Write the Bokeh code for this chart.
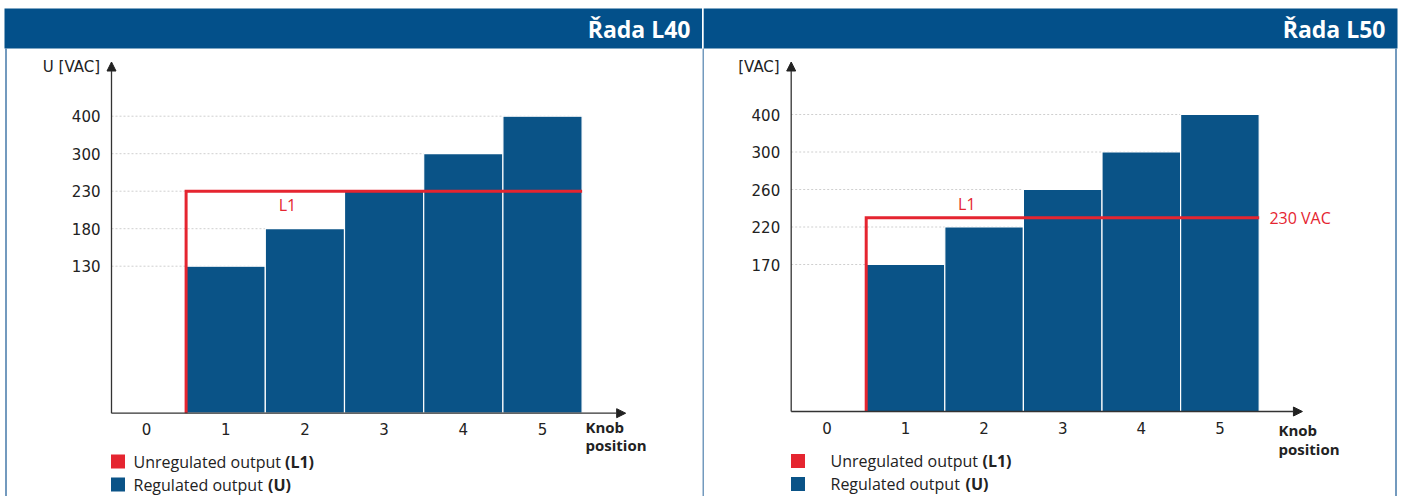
import numpy as np
from bokeh.plotting import figure
from bokeh.layouts import row
from bokeh.models import Range1d, FixedTicker, Arrow, NormalHead
from bokeh.core.properties import value
from bokeh.embed import file_html
from bokeh.resources import INLINE

# ---------------- data ----------------
knob_positions = [0, 1, 2, 3, 4, 5]
bar_positions = [1, 2, 3, 4, 5]
l40_regulated = [130, 180, 230, 300, 400]
l40_ticks = [130, 180, 230, 300, 400]
l50_regulated = [170, 220, 260, 300, 400]
l50_ticks = [170, 220, 260, 300, 400]
unregulated_l1 = 230
titles = ["Řada L40", "Řada L50"]
y_axis_titles = ["U [VAC]", "[VAC]"]
legend_labels = ["Unregulated output", "Regulated output"]
legend_bold = ["(L1)", "(U)"]
x_axis_title = ["Knob", "position"]

# ---------------- style ----------------
HEADER = "#03508a"
BAR = "#0a5387"
RED = "#e52530"
BORDER = "#4579a8"
TXT = "#222222"
TICK_DISP = [147.0, 184.5, 222.0, 259.5, 297.0]  # evenly spaced tick rows, px above baseline
H = 496
TOP = 0


def make_panel(page_left, width, origin, scale, baseline, ticks, regulated, title, title_right,
               ytitle, axis_px, l1_label_dy, show_value, legend_x, bold_x, sq_x, legend_y,
               knob_x, knob_y, header_x, border_x):
    kx = lambda px: (px - origin) / scale
    dy = lambda py: baseline - py

    p = figure(width=width, height=H,
               x_range=Range1d(kx(page_left), kx(page_left + width)),
               y_range=Range1d(dy(TOP + H), dy(TOP)),
               min_border=0, toolbar_location=None, output_backend="svg")
    p.outline_line_color = None
    p.background_fill_color = "white"
    p.border_fill_color = "white"
    p.grid.visible = False

    def disp(v):
        return np.interp(v, [0] + list(ticks), [0.0] + TICK_DISP)

    tick_pos = [float(d) for d in disp(ticks)]
    ax_k = kx(axis_px)

    # dotted grid lines
    p.segment(x0=[ax_k] * len(tick_pos), y0=tick_pos,
              x1=[bar_positions[-1] + 0.5] * len(tick_pos), y1=tick_pos,
              line_color="#cfcfcf", line_width=1, line_dash="2 2")

    # regulated output bars
    p.vbar(x=bar_positions, width=1, bottom=0, top=disp(regulated),
           fill_color=BAR, line_color="white", line_width=1.2)

    # unregulated L1 line
    l1d = float(disp(unregulated_l1))
    x0 = bar_positions[0] - 0.5
    x1 = bar_positions[-1] + 0.5
    p.line(x=[x0, x0, x1], y=[0, l1d, l1d], line_color=RED, line_width=3, line_join="miter")
    p.text(x=[1.78], y=[l1d + l1_label_dy], text=["L1"], text_color=RED,
           text_font=value("Open Sans"), text_font_size="16px",
           text_align="center", text_baseline="middle")
    if show_value:
        p.text(x=[x1 + 0.13], y=[l1d], text=[f"{unregulated_l1} VAC"],
               text_color=RED, text_font=value("Open Sans"), text_font_size="16px",
               text_align="left", text_baseline="middle")

    # axis arrows
    head = dict(size=9, fill_color="#222222", line_color="#222222")
    p.add_layout(Arrow(x_start=ax_k, y_start=0, x_end=ax_k, y_end=dy(61.5),
                       line_color="#333333", line_width=1.3, end=NormalHead(**head)))
    p.add_layout(Arrow(x_start=ax_k, y_start=0, x_end=6.05, y_end=0,
                       line_color="#333333", line_width=1.3, end=NormalHead(**head)))

    # y axis (library axis, fixed inside the frame)
    ya = p.yaxis[0]
    ya.fixed_location = ax_k
    ya.ticker = FixedTicker(ticks=tick_pos)
    ya.major_label_overrides = {t: str(v) for t, v in zip(tick_pos, ticks)}
    ya.major_label_standoff = 11
    # x axis
    xa = p.xaxis[0]
    xa.fixed_location = 0
    xa.ticker = FixedTicker(ticks=knob_positions)
    xa.major_label_standoff = 10
    for ax in (ya, xa):
        ax.axis_line_color = None
        ax.major_tick_line_color = None
        ax.minor_tick_line_color = None
        ax.major_tick_out = 0
        ax.major_tick_in = 0
        ax.major_label_text_font = "DejaVu Sans"
        ax.major_label_text_font_size = "15px"
        ax.major_label_text_color = TXT

    # axis titles
    p.text(x=[ax_k - 11.5 / scale], y=[dy(66)], text=[ytitle], text_color=TXT,
           text_font=value("DejaVu Sans"), text_font_size="15px",
           text_align="right", text_baseline="middle")
    p.text(x=[kx(knob_x)] * 2, y=[dy(knob_y[0]), dy(knob_y[1])], text=x_axis_title,
           text_color=TXT, text_font=value("Open Sans"), text_font_size="15px",
           text_font_style="bold", text_align="left", text_baseline="middle")

    # header band
    p.quad(left=[kx(header_x[0])], right=[kx(header_x[1])], top=[dy(8)], bottom=[dy(48)],
           fill_color=HEADER, line_color=None)
    p.text(x=[kx(title_right)], y=[dy(28.5)], text=[title], text_color="white",
           text_font=value("Open Sans"), text_font_size="23px", text_font_style="bold",
           text_align="right", text_baseline="middle")

    # panel borders
    bx = [kx(b) for b in border_x]
    p.segment(x0=bx, y0=[dy(48)] * len(bx), x1=bx, y1=[dy(TOP + H)] * len(bx),
              line_color=BORDER, line_width=1.5)

    # legend
    sq_k = kx(sq_x)
    ly = [dy(legend_y[0]), dy(legend_y[1])]
    p.scatter(x=[sq_k, sq_k], y=ly, marker="square", size=14,
              fill_color=[RED, BAR], line_color=None)
    p.text(x=[kx(legend_x)] * 2, y=ly, text=legend_labels, text_color=TXT,
           text_font=value("Open Sans"), text_font_size="16px",
           text_align="left", text_baseline="middle")
    p.text(x=[kx(bold_x[0]), kx(bold_x[1])], y=ly, text=legend_bold, text_color=TXT,
           text_font=value("Open Sans"), text_font_size="16px", text_font_style="bold",
           text_align="left", text_baseline="middle")
    return p


p1 = make_panel(page_left=0, width=702, origin=146.0, scale=79.2, baseline=412.7,
                ticks=l40_ticks, regulated=l40_regulated, title=titles[0], title_right=690,
                ytitle=y_axis_titles[0], axis_px=111, l1_label_dy=-13.3, show_value=False,
                legend_x=133, bold_x=(284.5, 267.5), sq_x=117.5, legend_y=(461, 484),
                knob_x=585, knob_y=(426, 444.5), header_x=(4, 702), border_x=[5.5])
p2 = make_panel(page_left=702, width=701, origin=826.4, scale=78.6, baseline=411.0,
                ticks=l50_ticks, regulated=l50_regulated, title=titles[1], title_right=1385,
                ytitle=y_axis_titles[1], axis_px=790.7, l1_label_dy=14.0, show_value=True,
                legend_x=830, bold_x=(982, 965), sq_x=797.5, legend_y=(460.5, 483.5),
                knob_x=1278, knob_y=(429.5, 448.5), header_x=(703.2, 1397),
                border_x=[702.5, 1395.5])

layout = row(p1, p2, spacing=0)
open("out.html", "w").write(file_html(layout, INLINE))
